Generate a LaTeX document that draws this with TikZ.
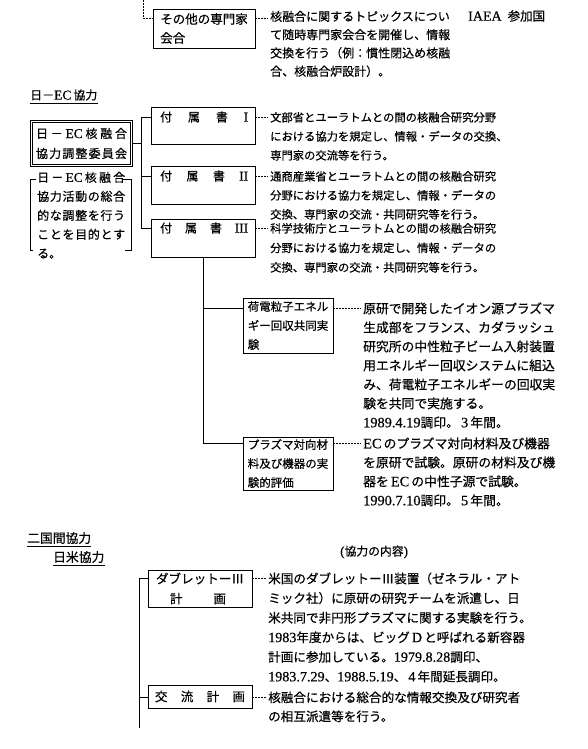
\documentclass[tikz,border=0pt]{standalone}
\usepackage{fontspec}
\setmainfont{Liberation Serif}
\newfontfamily\jp[FakeBold=0.5]{Noto Sans CJK JP}
\newfontfamily\latn[Scale=1.12,FakeBold=0.5]{Liberation Serif}
\newcommand\fsz[2]{\fontsize{#1}{#2}\selectfont}
\newcommand\spr[2]{\makebox[#1][s]{#2}}
\begin{document}
\begin{tikzpicture}[x=1pt,y=-1pt,
  ln/.style={line width=0.85pt},
  box/.style={draw, line width=0.85pt, inner sep=0pt},
  lead/.style={line width=0.7pt, dash pattern=on 1.6pt off 1.4pt},
  txt/.style={anchor=north west, inner sep=0pt, align=left},
  lbl/.style={anchor=west, inner sep=0pt},
]
\useasboundingbox[fill=white] (0,0) rectangle (587,749);

% ---------- top: other expert meetings ----------
\node[box, minimum width=102pt, minimum height=39pt, align=left, font=\jp\fsz{12.5}{19}] (bA) at (204,28.5) {その他の専門家\\会合};
\coordinate (tin) at (143,0);
\coordinate (yA) at (0,18);
\draw[lead] (tin) |- (bA.west |- yA);
\node[txt, font=\jp\fsz{12}{18.3}] (dA) at (270,10.6) {核融合に関するトピックスについ\\て随時専門家会合を開催し、情報\\交換を行う（例：慣性閉込め核融\\合、核融合炉設計）。};
\draw[lead, shorten >=2pt] (bA.east |- yA) -- (dA.west |- yA);
\node[lbl, font=\jp\fsz{12.5}{14}] (iaea) at (468,16) {{\latn IAEA}\hspace{6pt}参加国};

% ---------- Japan-EC ----------
\node[lbl, font=\jp\fsz{12}{14}] (lEC) at (30,95) {日－{\latn EC}\,協力};
\draw[line width=0.7pt] ([yshift=-2.5pt]lEC.south west) -- ([yshift=-2.5pt]lEC.south east);

\node[box, double, double distance=1.4pt, minimum width=100pt, minimum height=44pt, align=center, font=\jp\fsz{12}{20}] (dbl) at (81.5,143.5)
 {\spr{91pt}{日\hfill －\hfill {\latn EC}\hfill 核\hfill 融\hfill 合}\\\spr{91pt}{協\hfill 力\hfill 調\hfill 整\hfill 委\hfill 員\hfill 会}};

\node[txt, font=\jp\fsz{12}{19}] (brt) at (37,171.6)
 {\spr{88pt}{日\hfill －\hfill {\latn EC}\hfill 核\hfill 融\hfill 合}\\
  \spr{88pt}{協\hfill 力\hfill 活\hfill 動\hfill の\hfill 総\hfill 合}\\
  \spr{88pt}{的\hfill な\hfill 調\hfill 整\hfill を\hfill 行\hfill う}\\
  \spr{88pt}{こ\hfill と\hfill を\hfill 目\hfill 的\hfill と\hfill す}\\
  る。};
\draw[ln] (36,179) -- (30,179) -- (30,250) -- (33,250);
\draw[ln] (123,179) -- (131,179) -- (131,250) -- (125,250);

\node[box, minimum width=104pt, minimum height=37pt] (b1) at (203,125.5) {};
\node[box, minimum width=104pt, minimum height=38pt] (b2) at (203,185) {};
\node[box, minimum width=104pt, minimum height=38pt] (b3) at (203,238) {};
\node[lbl, font=\jp\fsz{12}{14}] (t1) at (160,117) {\spr{88pt}{付\hfill 属\hfill 書\hfill {\latn I}}};
\node[lbl, font=\jp\fsz{12}{14}] (t2) at (160,176) {\spr{88pt}{付\hfill 属\hfill 書\hfill {\latn II}}};
\node[lbl, font=\jp\fsz{12}{14}] (t3) at (160,228) {\spr{88pt}{付\hfill 属\hfill 書\hfill {\latn III}}};

\coordinate (bus1) at (141,0);
\draw[ln] (dbl.east) -- (bus1 |- dbl.east);
\draw[ln] (bus1 |- t1) -- (bus1 |- t3);
\draw[ln] (bus1 |- t1) -- (b1.west |- t1);
\draw[ln] (bus1 |- t2) -- (b2.west |- t2);
\draw[ln] (bus1 |- t3) -- (b3.west |- t3);

\node[txt, font=\jp\fsz{11.3}{19}] (d1) at (270,111.9) {文部省とユーラトムとの間の核融合研究分野\\における協力を規定し、情報・データの交換、\\専門家の交流等を行う。};
\node[txt, font=\jp\fsz{11.3}{19}] (d2) at (270,170.9) {通商産業省とユーラトムとの間の核融合研究\\分野における協力を規定し、情報・データの\\交換、専門家の交流・共同研究等を行う。};
\node[txt, font=\jp\fsz{11.3}{19.5}] (d3) at (270,222.9) {科学技術庁とユーラトムとの間の核融合研究\\分野における協力を規定し、情報・データの\\交換、専門家の交流・共同研究等を行う。};
\draw[lead, shorten >=2pt] (b1.east |- t1) -- (d1.west |- t1);
\draw[lead, shorten >=2pt] (b2.east |- t2) -- (d2.west |- t2);
\draw[lead, shorten >=2pt] (b3.east |- t3) -- (d3.west |- t3);

\node[box, minimum width=90pt, minimum height=55pt, align=left, font=\jp\fsz{11.5}{19}] (b4) at (288,325.5) {荷電粒子エネル\\ギー回収共同実\\験};
\node[box, minimum width=90pt, minimum height=53pt, align=left, font=\jp\fsz{11.5}{19}] (b5) at (288,463.5) {プラズマ対向材\\料及び機器の実\\験的評価};
\coordinate (y4) at (0,308);
\coordinate (y5) at (0,443);
\draw[ln] (b3.south) -- (b3.south |- y5);
\draw[ln] (b3.south |- y4) -- (b4.west |- y4);
\draw[ln] (b3.south |- y5) -- (b5.west |- y5);

\node[txt, font=\jp\fsz{12.8}{19}] (d4) at (363,302.2) {原研で開発したイオン源プラズマ\\生成部をフランス、カダラッシュ\\研究所の中性粒子ビーム入射装置\\用エネルギー回収システムに組込\\み、荷電粒子エネルギーの回収実\\験を共同で実施する。\\{\latn 1989.4.19}調印。\,{\latn 3}\,年間。};
\node[txt, font=\jp\fsz{12.8}{19}] (d5) at (363,437.2) {{\latn EC}\,のプラズマ対向材料及び機器\\を原研で試験。原研の材料及び機\\器を\,{\latn EC}\,の中性子源で試験。\\{\latn 1990.7.10}調印。\,{\latn 5}\,年間。};
\draw[lead, shorten >=2pt] (b4.east |- y4) -- (d4.west |- y4);
\draw[lead, shorten >=2pt] (b5.east |- y5) -- (d5.west |- y5);

% ---------- bilateral ----------
\node[lbl, font=\jp\fsz{11.8}{14}] (naiyo) at (340,552) {{\latn (}協力の内容{\latn )}};
\node[lbl, font=\jp\fsz{12.8}{14}] (lBi) at (27,538) {二国間協力};
\draw[line width=0.7pt] ([yshift=-2.5pt]lBi.south west) -- ([yshift=-2.5pt]lBi.south east);
\node[lbl, font=\jp\fsz{12.8}{14}] (lUS) at (53,557) {日米協力};
\draw[line width=0.7pt] ([yshift=-2.5pt]lUS.south west) -- ([yshift=-2.5pt]lUS.south east);

\node[box, minimum width=104pt, minimum height=37pt, align=center, font=\jp\fsz{12.5}{20}] (b6) at (200,588.5) {\spr{88pt}{ダ\hfill ブ\hfill レ\hfill ッ\hfill ト\hfill ー\hfill Ⅲ}\\\hspace*{-4pt}計\hspace{31pt}画};
\node[box, minimum width=104pt, minimum height=23pt, font=\jp\fsz{12.5}{14}] (b7) at (200,696.5) {\spr{90pt}{交\hfill 流\hfill 計\hfill 画}};
\coordinate (y6) at (0,578);
\coordinate (y7) at (0,697);
\coordinate (bus2) at (139,728);
\draw[ln] (bus2 |- y6) -- (bus2);
\draw[ln] (bus2 |- y6) -- (b6.west |- y6);
\draw[ln] (bus2 |- y7) -- (b7.west |- y7);

\node[txt, font=\jp\fsz{12.6}{19.6}] (d6) at (268,572.3) {米国のダブレットーⅢ装置（ゼネラル・アト\\ミック社）に原研の研究チームを派遣し、日\\米共同で非円形プラズマに関する実験を行う。\\{\latn 1983}年度からは、ビッグ\,{\latn D}\,と呼ばれる新容器\\計画に参加している。{\latn 1979.8.28}調印、\\{\latn 1983.7.29}、{\latn 1988.5.19}、\,{\latn 4}\,年間延長調印。};
\node[txt, font=\jp\fsz{12.6}{19}] (d7) at (268,691.3) {核融合における総合的な情報交換及び研究者\\の相互派遣等を行う。};
\draw[lead, shorten >=2pt] (b6.east |- y6) -- (d6.west |- y6);
\draw[lead, shorten >=2pt] (b7.east |- y7) -- (d7.west |- y7);
\end{tikzpicture}
\end{document}
